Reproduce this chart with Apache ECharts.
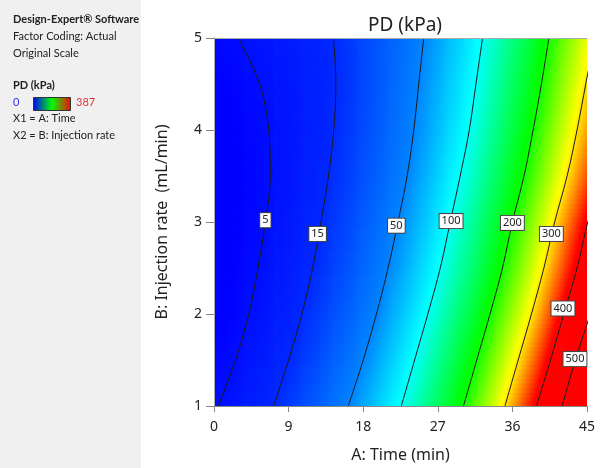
<!DOCTYPE html>
<html>
<head>
<meta charset="utf-8">
<script src="https://cdn.jsdelivr.net/npm/echarts@6/dist/echarts.min.js"></script>
<style>
html,body{margin:0;padding:0;background:#fff;}
#chart{width:615px;height:468px;}
</style>
</head>
<body>
<div id="chart"></div>
<script>
// ---- data ----
const timeTicks = [0, 9, 18, 27, 36, 45];
const rateTicks = [1, 2, 3, 4, 5];
const rateRows = [1, 1.5, 2, 2.5, 3, 3.5, 4, 4.5, 5];
const contourLevels = [5, 15, 50, 100, 200, 300, 400, 500];
// A: Time (min) where each contour crosses each row of rateRows
const time5   = [0.5, 2.6, 4.2, 5.3, 6.2, 6.8, 6.6, 5.5, 2.9];
const time15  = [7.2, 9.0, 10.6, 11.9, 12.9, 13.8, 14.45, 14.7, 14.4];
const time50  = [16.2, 18.0, 19.6, 21.0, 22.2, 23.3, 24.1, 24.7, 25.3];
const time100 = [22.6, 24.2, 25.8, 27.3, 28.5, 29.7, 30.8, 31.6, 32.4];
const time200 = [30.1, 31.7, 33.3, 34.8, 36.0, 37.4, 38.5, 39.5, 40.4];
const time300 = [35.1, 36.7, 38.3, 39.8, 41.1, 42.6, 43.8, 44.85, 45.9];
const time400 = [38.9, 40.6, 42.2, 43.8, 45.1, 46.8, 48.4, 50.0, 51.5];
const time500 = [42.0, 43.6, 45.4, 47.2, 49.0, 50.8, 52.6, 54.4, 56.2];
// contour label anchors
const labelTime = [6.2, 12.5, 22.0, 28.6, 36.0, 40.7, 42.1, 43.55];
const labelRate = [3.02, 2.87, 2.96, 3.01, 2.99, 2.87, 2.06, 1.51];
const colorMin = 0, colorMax = 387;

const contourTimes = [time5, time15, time50, time100, time200, time300, time400, time500];

// ---- field reconstructed from the contour positions ----
function positionsAt(b) {
  let j = 0;
  while (j < rateRows.length - 2 && b > rateRows[j + 1]) j++;
  const t = (b - rateRows[j]) / (rateRows[j + 1] - rateRows[j]);
  return contourTimes.map(arr => arr[j] + (arr[j + 1] - arr[j]) * t);
}
function pdAt(a, b) {
  const P = positionsAt(b), L = contourLevels, n = L.length;
  let v;
  if (a <= P[0]) v = L[0] + (a - P[0]) * (L[1] - L[0]) / (P[1] - P[0]);
  else if (a >= P[n - 1]) v = L[n - 1] + (a - P[n - 1]) * (L[n - 1] - L[n - 2]) / (P[n - 1] - P[n - 2]);
  else {
    let k = 0;
    while (a > P[k + 1]) k++;
    v = L[k] + (a - P[k]) * (L[k + 1] - L[k]) / (P[k + 1] - P[k]);
  }
  return Math.max(colorMin, Math.min(colorMax, v));
}
const dA = 0.25, dB = 0.05;
const cells = [];
for (let a = 0; a < 45 - 1e-9; a += dA) {
  for (let b = 1; b < 5 - 1e-9; b += dB) {
    const ac = a + dA / 2, bc = b + dB / 2;
    cells.push([ac, bc, pdAt(ac, bc)]);
  }
}

const chart = echarts.init(document.getElementById('chart'), null, {renderer: 'canvas'});
const FONT = 'Noto Sans';
const PANEL_FONT = 'Lato';

const lineSeries = contourLevels.map((lv, k) => ({
  type: 'line',
  name: String(lv),
  data: rateRows.map((b, i) => [contourTimes[k][i], b]),
  smooth: 0.35,
  symbol: 'none',
  clip: true,
  z: 3,
  lineStyle: {color: '#1a1a1a', width: 1},
  silent: true
}));

const labelData = contourLevels.map((lv, k) => [labelTime[k], labelRate[k], String(lv)]);

const panelText = (txt, y, bold, color, x) => ({
  type: 'text', left: x || 13, top: y - 7,
  style: {text: txt, font: (bold ? 'bold ' : '') + '11px ' + PANEL_FONT, fill: color || '#222'}
});

chart.setOption({
  animation: false,
  backgroundColor: '#fff',
  title: {
    text: 'PD (kPa)', left: 400, top: 11, textAlign: 'center',
    textStyle: {fontFamily: FONT, fontSize: 19, fontWeight: 'normal', color: '#222'}
  },
  grid: {left: 214, top: 38, width: 373, height: 371, show: false},
  xAxis: [{
    type: 'value', min: 0, max: 45, interval: 9, position: 'bottom', z: 5,
    axisLine: {show: true, lineStyle: {color: '#888', width: 1}},
    axisTick: {show: true, length: 6, lineStyle: {color: '#888'}},
    axisLabel: {fontFamily: FONT, fontSize: 14, color: '#222', margin: 14},
    splitLine: {show: false},
    name: 'A: Time (min)', nameLocation: 'middle', nameGap: 41,
    nameTextStyle: {fontFamily: FONT, fontSize: 16, color: '#222'}
  }, {
    type: 'value', min: 0, max: 45, position: 'top', z: 5,
    axisLine: {show: true, lineStyle: {color: '#aaa', width: 1}},
    axisTick: {show: false}, axisLabel: {show: false}, splitLine: {show: false}
  }],
  yAxis: [{
    type: 'value', min: 1, max: 5, interval: 1, position: 'left', z: 5,
    axisLine: {show: true, lineStyle: {color: '#888', width: 1}},
    axisTick: {show: true, length: 8, lineStyle: {color: '#888'}},
    axisLabel: {fontFamily: FONT, fontSize: 14, color: '#222', margin: 12},
    splitLine: {show: false},
    name: 'B: Injection rate  (mL/min)', nameLocation: 'middle', nameGap: 44,
    nameTextStyle: {fontFamily: FONT, fontSize: 16, color: '#222'}
  }, {
    type: 'value', min: 1, max: 5, position: 'right', z: 5,
    axisLine: {show: true, lineStyle: {color: '#aaa', width: 1}},
    axisTick: {show: false}, axisLabel: {show: false}, splitLine: {show: false}
  }],
  visualMap: {
    type: 'continuous', show: false, seriesIndex: 0, dimension: 2,
    min: colorMin, max: colorMax,
    inRange: {color: ['#0000ff', '#00ffff', '#00ff00', '#ffff00', '#ff0000']}
  },
  series: [{
    type: 'custom',
    data: cells,
    z: 1,
    clip: true,
    silent: true,
    progressive: 0,
    encode: {x: 0, y: 1},
    renderItem: function (params, api) {
      const a = api.value(0), b = api.value(1);
      const p0 = api.coord([a - dA / 2, b + dB / 2]);
      const p1 = api.coord([a + dA / 2, b - dB / 2]);
      return {
        type: 'rect',
        shape: {x: p0[0], y: p0[1], width: p1[0] - p0[0] + 0.7, height: p1[1] - p0[1] + 0.7},
        style: {fill: api.visual('color')}
      };
    }
  }].concat(lineSeries).concat([{
    type: 'scatter',
    data: labelData,
    z: 6,
    symbol: 'rect', symbolSize: 0,
    itemStyle: {color: '#ffffff', opacity: 1},
    silent: true,
    label: {
      show: true, position: [0, 0], align: 'center', verticalAlign: 'middle',
      formatter: p => p.value[2],
      fontFamily: FONT, fontSize: 11, color: '#222', opacity: 1,
      backgroundColor: '#ffffff', borderColor: '#444', borderWidth: 1,
      padding: [2, 2, 1, 2]
    }
  }]),
  graphic: [
    {type: 'rect', left: 0, top: 0, z: -10, shape: {width: 141, height: 468}, style: {fill: '#f0f0f0'}},
    panelText('Design-Expert\u00ae Software', 21, true),
    panelText('Factor Coding: Actual', 38, false),
    panelText('Original Scale', 55, false),
    panelText('PD (kPa)', 87, true),
    panelText('0', 104, false, '#3030ff'),
    {
      type: 'rect', left: 33, top: 97, shape: {width: 37, height: 13},
      style: {
        fill: new echarts.graphic.LinearGradient(0, 0, 1, 0, [
          {offset: 0, color: '#0000ff'}, {offset: 0.5, color: '#00ff00'}, {offset: 1, color: '#ff0000'}
        ]),
        stroke: '#333', lineWidth: 1
      }
    },
    panelText('387', 104, false, '#e03030', 76),
    panelText('X1 = A: Time', 120, false),
    panelText('X2 = B: Injection rate', 137, false)
  ]
});
</script>
</body>
</html>
